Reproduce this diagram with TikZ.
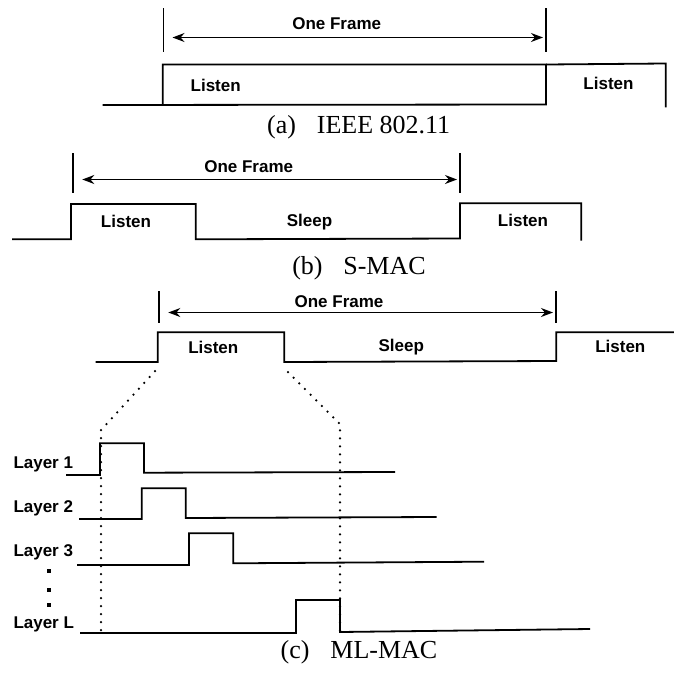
\documentclass[tikz,border=0pt]{standalone}
\usepackage{fontspec}
\setmainfont{Liberation Serif}
\setsansfont{Liberation Sans}
\usepackage{tikz}
\usetikzlibrary{arrows,arrows.meta}

\begin{document}
\begin{tikzpicture}[x=1pt,y=-1pt,
	wave/.style={line width=1.8pt,line join=miter},
	fbar/.style={line width=1.7pt},
	span/.style={line width=1.4pt,{Stealth[length=12pt,width=9pt]}-{Stealth[length=12pt,width=9pt]}},
	lbl/.style={font=\sffamily\bfseries\fontsize{17}{17}\selectfont,anchor=base,inner sep=0pt},
	sub/.style={font=\fontsize{26}{26}\selectfont,anchor=base,inner sep=0pt},
	dots/.style={line width=2.5pt,line cap=round,dash pattern=on 0pt off 8pt}]
	\useasboundingbox (0,0) rectangle (674,672);

	\coordinate (A1) at (163.5,37.5);
	\coordinate (A2) at (546,37.5);
	\draw[fbar] (A1) ++(0,-29.5) -- ++(0,44);
	\draw[fbar] (A2) ++(0,-29.5) -- ++(0,44);
	\draw[span,shorten <=9pt,shorten >=3pt] (A1) -- (A2);
	\node[lbl] (FA) at (336.7,29) {One Frame};
	\draw[wave] (102.7,105) -- (546,104.5) -- (546,64.5) -- (162.7,64.5) -- (162.7,105);
	\draw[wave] (546,64.5) -- (665.7,63.5) -- (665.7,107.3);
	\node[lbl] (LA1) at (215.7,91.5) {Listen};
	\node[lbl] (LA2) at (608.5,89.5) {Listen};
	\node[sub] (SA) at (358.7,133) {(a)\hspace{0.8em}IEEE 802.11};

	\coordinate (B1) at (73.3,179.5);
	\coordinate (B2) at (460,179.5);
	\draw[fbar] (B1) ++(0,-26.5) -- ++(0,40);
	\draw[fbar] (B2) ++(0,-26.5) -- ++(0,40);
	\draw[span,shorten <=9pt,shorten >=3pt] (B1) -- (B2);
	\node[lbl] (FB) at (248.7,172.7) {One Frame};
	\draw[wave] (12,239.3) -- (71,239.3) -- (71,204) -- (195.7,204) -- (195.7,239.3) -- (460,238.5) -- (460,203.3) -- (581.3,203.3) -- (581.3,240.7);
	\node[lbl] (LB1) at (126,227.7) {Listen};
	\node[lbl] (SB) at (309.5,226) {Sleep};
	\node[lbl] (LB2) at (523,226.7) {Listen};
	\node[sub] (SBc) at (359,274) {(b)\hspace{0.8em}S-MAC};

	\coordinate (C1) at (159.3,312.5);
	\coordinate (C2) at (556,312.5);
	\draw[fbar] (C1) ++(0,-21.5) -- ++(0,32);
	\draw[fbar] (C2) ++(0,-21.5) -- ++(0,32);
	\draw[span,shorten <=9pt,shorten >=3pt] (C1) -- (C2);
	\node[lbl] (FC) at (339,307.7) {One Frame};
	\draw[wave] (95.7,362) -- (157.7,362) -- (157.7,332.3) -- (284.3,332.3) -- (284.3,362) -- (556.3,361) -- (556.3,332.3) -- (674,332.3);
	\node[lbl] (LC1) at (213.3,353.3) {Listen};
	\node[lbl] (SC) at (401.3,351) {Sleep};
	\node[lbl] (LC2) at (620.3,352) {Listen};

	\draw[dots] (155,371) -- (101,430) -- (101,634);
	\draw[dots] (288,372) -- (340,424) -- (340,634);

	\draw[wave] (66,475) -- (100,475) -- (100,443.3) -- (144,443.3) -- (144,472.7) -- (395,472);
	\draw[wave] (79,519) -- (141.7,519) -- (141.7,488.3) -- (185.7,488.3) -- (185.7,518) -- (436.7,517);
	\draw[wave] (77,565) -- (189,565) -- (189,533.3) -- (233.3,533.3) -- (233.3,563.3) -- (484,561.7);
	\draw[wave] (80,633) -- (296,633) -- (296,600) -- (340,600) -- (340,632) -- (590,629);
	\node[lbl,anchor=base west] (Y1) at (13.3,468) {Layer 1};
	\node[lbl,anchor=base west] (Y2) at (13.3,512) {Layer 2};
	\node[lbl,anchor=base west] (Y3) at (13.3,556) {Layer 3};
	\node[lbl,anchor=base west] (YL) at (13.3,628) {Layer L};
	\fill (47,569) rectangle (51,573);
	\fill (47,588) rectangle (51,592);
	\fill (47,603) rectangle (51,607);
	\node[sub] (SCc) at (359,658) {(c)\hspace{0.8em}ML-MAC};
\end{tikzpicture}
\end{document}
